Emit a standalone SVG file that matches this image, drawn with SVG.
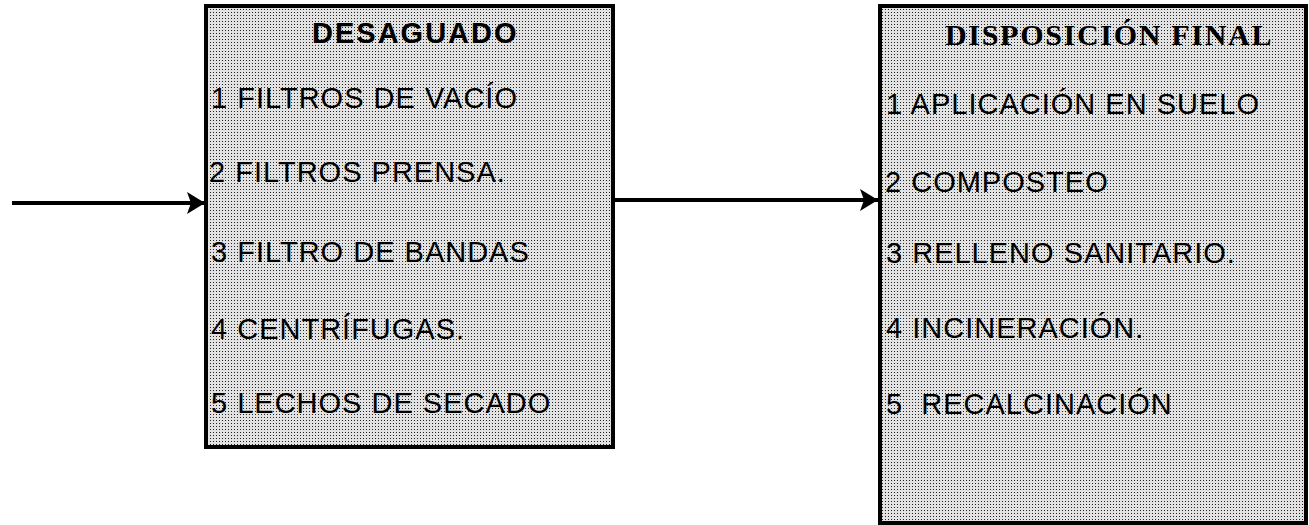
<svg xmlns="http://www.w3.org/2000/svg" width="1309" height="525" viewBox="0 0 1309 525">
<style>
.box{fill:url(#dots);stroke:#000;stroke-width:4}
.item{font-family:"Liberation Sans",Arial,sans-serif;font-size:29px;letter-spacing:1px;fill:#000;white-space:pre}
.t1{font-family:"Liberation Sans",Arial,sans-serif;font-size:29px;font-weight:bold;letter-spacing:2px;fill:#000}
.t2{font-family:"Liberation Serif","Times New Roman",serif;font-size:30px;font-weight:bold;letter-spacing:1.7px;fill:#000}
.conn{stroke:#000;stroke-width:4;fill:none;marker-end:url(#arr)}
</style>
<defs>
<pattern id="dots" width="3" height="3" patternUnits="userSpaceOnUse">
<rect width="3" height="3" fill="#e2e2e2"/>
<rect width="1" height="1" fill="#222"/>
</pattern>
<marker id="arr" viewBox="0 0 18 22" refX="18" refY="11" markerWidth="18" markerHeight="22" markerUnits="userSpaceOnUse" orient="auto">
<path d="M0,0 L18,11 L0,22 L4,11 Z" fill="#000"/>
</marker>
</defs>
<g id="desaguado">
<rect class="box" x="206" y="6" width="407" height="441"/>
<text class="t1" x="312" y="43">DESAGUADO</text>
<text class="item" x="211" y="108">1 FILTROS DE VACÍO</text>
<text class="item" x="209" y="182">2 FILTROS PRENSA.</text>
<text class="item" x="211" y="262">3 FILTRO DE BANDAS</text>
<text class="item" x="211" y="339">4 CENTRÍFUGAS.</text>
<text class="item" x="211" y="413">5 LECHOS DE SECADO</text>
</g>
<g id="disposicion">
<rect class="box" x="880" y="6" width="426" height="517"/>
<text class="t2" x="945" y="45">DISPOSICIÓN FINAL</text>
<text class="item" x="886" y="114">1 APLICACIÓN EN SUELO</text>
<text class="item" x="885" y="192">2 COMPOSTEO</text>
<text class="item" x="886" y="263">3 RELLENO SANITARIO.</text>
<text class="item" x="886" y="338">4 INCINERACIÓN.</text>
<text class="item" x="886" y="414">5  RECALCINACIÓN</text>
</g>
<g id="connectors">
<line class="conn" x1="12" y1="203" x2="205" y2="203"/>
<line class="conn" x1="615" y1="200" x2="878" y2="200"/>
</g>
</svg>
